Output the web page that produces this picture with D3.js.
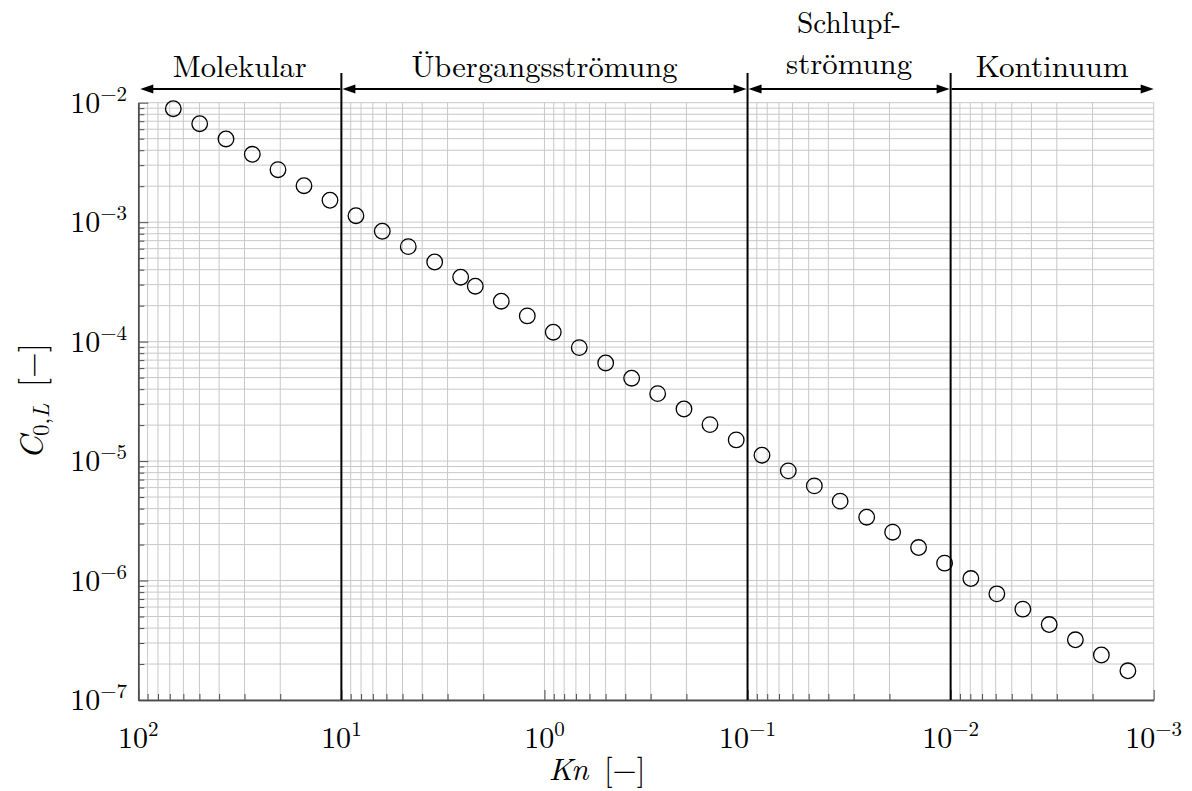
<!DOCTYPE html>
<html>
<head>
<meta charset="utf-8">
<script src="https://cdn.jsdelivr.net/npm/d3@7"></script>
<style>
  body { margin: 0; background: #fff; }
  svg { display: block; }
  text { font-family: 'Latin Modern Roman', 'CMU Serif', 'Liberation Serif', serif; fill: #000; }
</style>
</head>
<body>
<svg id="chart" width="1192" height="791"></svg>
<script>
// Knudsen number of each measured point
const knValues = [67.25, 49.85, 37.0, 27.46, 20.52, 15.28, 11.38, 8.477, 6.289, 4.684,
  3.472, 2.586, 2.191, 1.632, 1.215, 0.905, 0.674, 0.4995, 0.3721, 0.2771,
  0.2056, 0.1531, 0.1137, 0.0849, 0.063, 0.0469, 0.035, 0.0259, 0.0193, 0.01438,
  0.01071, 0.00795, 0.00592, 0.00441, 0.00327, 0.00243, 0.00181, 0.00134];
// C_{0,L} for each point
const c0Values = [8.91e-3, 6.67e-3, 4.97e-3, 3.70e-3, 2.75e-3, 2.02e-3, 1.526e-3, 1.133e-3, 8.39e-4, 6.24e-4,
  4.64e-4, 3.46e-4, 2.91e-4, 2.18e-4, 1.641e-4, 1.199e-4, 8.91e-5, 6.63e-5, 4.94e-5, 3.67e-5,
  2.73e-5, 2.02e-5, 1.504e-5, 1.120e-5, 8.28e-6, 6.20e-6, 4.62e-6, 3.39e-6, 2.54e-6, 1.889e-6,
  1.398e-6, 1.039e-6, 7.74e-7, 5.76e-7, 4.28e-7, 3.19e-7, 2.38e-7, 1.755e-7];

const regionBounds = [10, 0.1, 0.01];
const regionNames = [['Molekular'], ['Übergangsströmung'], ['Schlupf-', 'strömung'], ['Kontinuum']];
const xExponents = [2, 1, 0, -1, -2, -3];
const yExponents = [-2, -3, -4, -5, -6, -7];

const plotLeft = 138.3, plotRight = 1153.7, plotTop = 102.7, plotBottom = 700;

const svg = d3.select('#chart');

const x = d3.scaleLog()
    .domain([Math.pow(10, xExponents[0]), Math.pow(10, xExponents[xExponents.length - 1])])
    .range([plotLeft, plotRight]);
const y = d3.scaleLog()
    .domain([Math.pow(10, yExponents[0]), Math.pow(10, yExponents[yExponents.length - 1])])
    .range([plotTop, plotBottom]);

const xTicks = x.ticks();
const yTicks = y.ticks();
const isMajor = v => Math.abs(Math.log10(v) - Math.round(Math.log10(v))) < 1e-9;

// grid
const grid = svg.append('g').attr('stroke', '#c8c8c8').attr('stroke-width', 1);
grid.selectAll('.vgrid')
    .data(xTicks)
    .enter()
    .append('line')
    .attr('x1', d => x(d)).attr('x2', d => x(d))
    .attr('y1', plotTop).attr('y2', plotBottom);
grid.selectAll('.hgrid')
    .data(yTicks)
    .enter()
    .append('line')
    .attr('x1', plotLeft).attr('x2', plotRight)
    .attr('y1', d => y(d)).attr('y2', d => y(d));

// axes with inward ticks, minor and major
function styleAxis(g) {
    g.selectAll('path').attr('stroke', '#4d4d4d').attr('stroke-width', 1.4);
    g.selectAll('line').attr('stroke', '#4d4d4d').attr('stroke-width', 1);
}
svg.append('g')
    .attr('transform', `translate(0,${plotBottom})`)
    .call(d3.axisBottom(x).tickValues(xTicks.filter(d => !isMajor(d))).tickSize(-6).tickSizeOuter(0).tickFormat(''))
    .call(styleAxis);
svg.append('g')
    .attr('transform', `translate(0,${plotBottom})`)
    .call(d3.axisBottom(x).tickValues(xTicks.filter(isMajor)).tickSize(-10).tickSizeOuter(0).tickFormat(''))
    .call(styleAxis);
svg.append('g')
    .attr('transform', `translate(${plotLeft},0)`)
    .call(d3.axisLeft(y).tickValues(yTicks.filter(d => !isMajor(d))).tickSize(-6).tickSizeOuter(0).tickFormat(''))
    .call(styleAxis);
svg.append('g')
    .attr('transform', `translate(${plotLeft},0)`)
    .call(d3.axisLeft(y).tickValues(yTicks.filter(isMajor)).tickSize(-10).tickSizeOuter(0).tickFormat(''))
    .call(styleAxis);

// tick labels 10^n
xExponents.forEach(e => {
    const t = svg.append('text')
        .attr('x', x(Math.pow(10, e)))
        .attr('y', 748)
        .attr('text-anchor', 'middle')
        .style('font-size', '30px');
    t.append('tspan').text('10');
    t.append('tspan').attr('dy', -12).style('font-size', '21px').text(String(e).replace('-', '\u2212'));
});
yExponents.forEach(e => {
    const t = svg.append('text')
        .attr('x', 127)
        .attr('y', y(Math.pow(10, e)) + 10)
        .attr('text-anchor', 'end')
        .style('font-size', '30px');
    t.append('tspan').text('10');
    t.append('tspan').attr('dy', -12).style('font-size', '21px').text(String(e).replace('-', '\u2212'));
});

// region boundaries
svg.append('g')
    .selectAll('line')
    .data(regionBounds)
    .enter()
    .append('line')
    .attr('x1', d => x(d)).attr('x2', d => x(d))
    .attr('y1', 73).attr('y2', plotBottom)
    .attr('stroke', '#000')
    .attr('stroke-width', 2);

// region arrows and labels
const edges = [x.domain()[0]].concat(regionBounds, [x.domain()[1]]);
const arrowY = 89, headLen = 13, headHalf = 4.5;
const labelWidths = { 'Molekular': 134, 'Übergangsströmung': 266, 'Schlupf-': 104, 'strömung': 126, 'Kontinuum': 153 };
regionNames.forEach((lines, i) => {
    const x0 = x(edges[i]) + (i === 0 ? 2 : 1);
    const x1 = x(edges[i + 1]) - (i === regionNames.length - 1 ? 0 : 1);
    const hasLeft = i < regionNames.length - 1;
    const hasRight = i > 0;
    svg.append('line')
        .attr('x1', hasLeft ? x0 + headLen - 1 : x0)
        .attr('x2', hasRight ? x1 - headLen + 1 : x1)
        .attr('y1', arrowY).attr('y2', arrowY)
        .attr('stroke', '#000').attr('stroke-width', 2);
    if (hasLeft) {
        svg.append('path')
            .attr('d', `M${x0},${arrowY}L${x0 + headLen},${arrowY - headHalf}L${x0 + headLen},${arrowY + headHalf}Z`)
            .attr('fill', '#000');
    }
    if (hasRight) {
        svg.append('path')
            .attr('d', `M${x1},${arrowY}L${x1 - headLen},${arrowY - headHalf}L${x1 - headLen},${arrowY + headHalf}Z`)
            .attr('fill', '#000');
    }
    const cx = x(Math.sqrt(edges[i] * edges[i + 1]));
    const lineGap = 41;
    const lastBaseline = lines.length > 1 ? 74 : 77;
    // one text element per region, extra lines as tspans
    const label = svg.append('text')
        .attr('text-anchor', 'middle')
        .style('font-size', '30px');
    lines.forEach((txt, j) => {
        label.append('tspan')
            .attr('x', cx)
            .attr('y', lastBaseline - (lines.length - 1 - j) * lineGap)
            .attr('textLength', labelWidths[txt])
            .attr('lengthAdjust', 'spacingAndGlyphs')
            .text(txt);
    });
});

// data points
svg.append('g')
    .selectAll('circle')
    .data(knValues.map((k, i) => [k, c0Values[i]]))
    .enter()
    .append('circle')
    .attr('cx', d => x(d[0]))
    .attr('cy', d => y(d[1]))
    .attr('r', 7.8)
    .attr('fill', 'none')
    .attr('stroke', '#000')
    .attr('stroke-width', 1.3);

// axis titles
const xLabel = svg.append('text')
    .attr('x', 597)
    .attr('y', 780)
    .attr('text-anchor', 'middle')
    .style('font-size', '31px');
xLabel.append('tspan').style('font-style', 'italic').text('Kn');
xLabel.append('tspan').text('\u00a0[\u2212]');

const yLabel = svg.append('text')
    .attr('transform', `translate(43,${(plotTop + plotBottom) / 2}) rotate(-90)`)
    .attr('text-anchor', 'middle')
    .style('font-size', '33px');
yLabel.append('tspan').style('font-style', 'italic').text('C');
yLabel.append('tspan').attr('dy', 6).style('font-size', '23px').text('0,');
yLabel.append('tspan').style('font-size', '23px').style('font-style', 'italic').text('L');
yLabel.append('tspan').attr('dy', -6).text('\u00a0[\u2212]');
</script>
</body>
</html>
